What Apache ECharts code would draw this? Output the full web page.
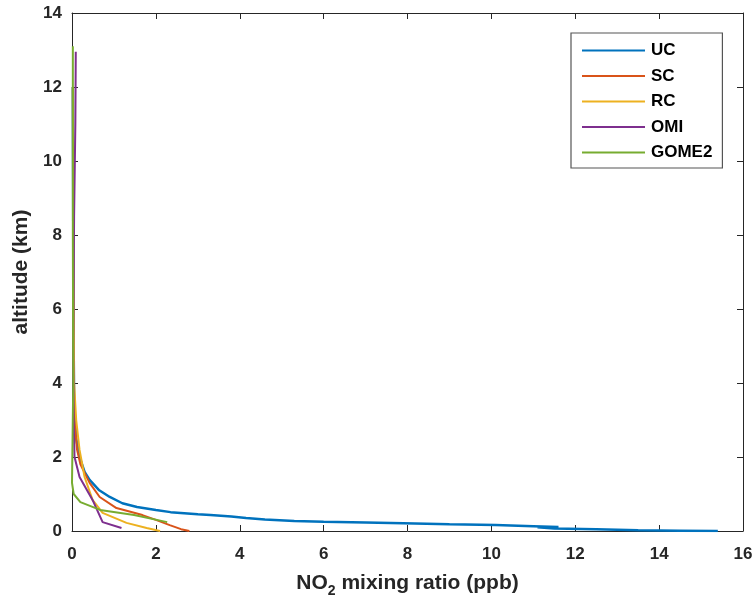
<!DOCTYPE html>
<html>
<head>
<meta charset="utf-8">
<script src="https://cdn.jsdelivr.net/npm/echarts@6/dist/echarts.min.js"></script>
<style>
  html, body { margin: 0; padding: 0; background: #fff; }
  #chart { width: 756px; height: 607px; }
</style>
</head>
<body>
<div id="chart"></div>
<script>
// profiles: mixing ratio (ppb) and altitude (km)
var ucX   = [0.02, 0.03, 0.04, 0.05, 0.10, 0.18, 0.30, 0.42, 0.65, 0.90, 1.20, 1.55, 2.00, 2.35, 3.00, 3.30, 3.80, 4.15, 4.60, 5.30, 6.00, 7.00, 7.90, 9.00, 10.1, 11.0, 11.6, 11.1, 11.5, 12.5, 13.5, 14.5, 15.4];
var ucAlt = [12.0, 8.0, 5.0, 3.5, 2.5, 2.0, 1.6, 1.38, 1.1, 0.92, 0.75, 0.65, 0.57, 0.51, 0.45, 0.43, 0.39, 0.35, 0.31, 0.27, 0.25, 0.23, 0.21, 0.18, 0.16, 0.13, 0.11, 0.10, 0.07, 0.05, 0.02, 0.01, 0.0];

var scX   = [0.02, 0.03, 0.06, 0.12, 0.20, 0.42, 0.66, 1.06, 1.68, 2.00, 2.33, 2.60, 2.80];
var scAlt = [12.0, 5.0, 3.0, 2.2, 1.8, 1.3, 0.92, 0.62, 0.43, 0.30, 0.16, 0.05, 0.0];

var rcX   = [0.02, 0.05, 0.10, 0.18, 0.30, 0.49, 0.73, 1.30, 1.78, 2.10];
var rcAlt = [12.0, 4.0, 3.0, 2.19, 1.46, 0.84, 0.49, 0.22, 0.08, 0.0];

var omiX   = [0.09, 0.08, 0.05, 0.03, 0.04, 0.06, 0.18, 0.49, 0.73, 1.18];
var omiAlt = [12.95, 11.0, 8.5, 5.0, 3.0, 2.0, 1.46, 0.84, 0.24, 0.08];

var gomeX   = [0.02, 0.02, 0.03, 0.00, 0.04, 0.20, 0.67, 1.48, 2.27];
var gomeAlt = [13.1, 8.0, 4.0, 1.3, 1.0, 0.78, 0.57, 0.43, 0.24];

var seriesNames = ['UC', 'SC', 'RC', 'OMI', 'GOME2'];
var colors = ['#0072BD', '#D95319', '#EDB120', '#7E2F8E', '#77AC30'];
var xs = [ucX, scX, rcX, omiX, gomeX];
var alts = [ucAlt, scAlt, rcAlt, omiAlt, gomeAlt];

function pairs(x, y) {
  return x.map(function (v, i) { return [v, y[i]]; });
}

var chart = echarts.init(document.getElementById('chart'), null, { renderer: 'canvas' });

var fontName = 'Liberation Sans';
var tickFont = { fontFamily: fontName, fontWeight: 'bold', fontSize: 17, color: '#262626' };
var axisLine = { show: true, onZero: false, lineStyle: { color: '#262626', width: 1 } };
var tick = { show: true, inside: true, length: 6, lineStyle: { color: '#262626' } };

var series = seriesNames.map(function (name, i) {
  return {
    name: name,
    type: 'line',
    data: pairs(xs[i], alts[i]),
    showSymbol: false,
    symbol: 'none',
    lineStyle: { color: colors[i], width: i === 0 ? 2.5 : 2 },
    itemStyle: { color: colors[i] }
  };
});

var option = {
  backgroundColor: '#fff',
  animation: false,
  grid: { left: 72, right: 13, top: 13, bottom: 76 },
  legend: {
    orient: 'vertical',
    left: 571,
    top: 33,
    padding: [9, 10, 7, 11],
    borderColor: '#555',
    borderWidth: 1.2,
    backgroundColor: '#fff',
    icon: 'rect',
    itemWidth: 63,
    itemHeight: 2,
    itemGap: 8.5,
    textStyle: { fontFamily: fontName, fontWeight: 'bold', fontSize: 17, color: '#000', padding: [0, 0, 0, 1] },
    data: seriesNames
  },
  xAxis: [{
    type: 'value', min: 0, max: 16, interval: 2,
    axisLine: axisLine, axisTick: tick,
    axisLabel: Object.assign({ margin: 15 }, tickFont),
    splitLine: { show: false },
    name: '{a|NO}{b|2}{a| mixing ratio (ppb)}',
    nameLocation: 'middle',
    nameGap: 37,
    nameTextStyle: {
      rich: {
        a: { fontFamily: fontName, fontWeight: 'bold', fontSize: 21, color: '#262626' },
        b: { fontFamily: fontName, fontWeight: 'bold', fontSize: 14, color: '#262626', padding: [16, 0, 0, 0] }
      }
    }
  }, {
    type: 'value', min: 0, max: 16, interval: 2, position: 'top',
    axisLine: axisLine, axisTick: tick, axisLabel: { show: false }, splitLine: { show: false }
  }],
  yAxis: [{
    type: 'value', min: 0, max: 14, interval: 2,
    axisLine: axisLine, axisTick: tick,
    axisLabel: Object.assign({ margin: 10 }, tickFont),
    splitLine: { show: false },
    name: 'altitude (km)',
    nameLocation: 'middle',
    nameGap: 38,
    nameTextStyle: { fontFamily: fontName, fontWeight: 'bold', fontSize: 21, color: '#262626' }
  }, {
    type: 'value', min: 0, max: 14, interval: 2, position: 'right',
    axisLine: axisLine, axisTick: tick, axisLabel: { show: false }, splitLine: { show: false }
  }],
  series: series
};

chart.setOption(option);
</script>
</body>
</html>
